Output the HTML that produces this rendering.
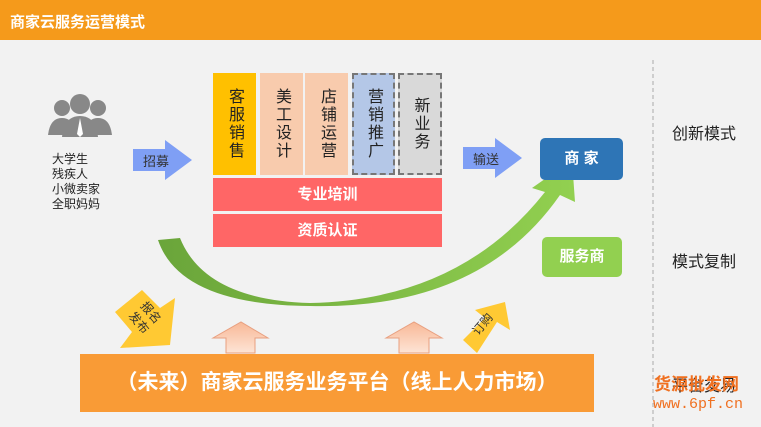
<!DOCTYPE html>
<html><head><meta charset="utf-8"><style>
body{margin:0;width:761px;height:427px;background:#f2f2f2;position:relative;overflow:hidden;font-family:"Liberation Sans","Noto Sans CJK SC",sans-serif}
.a{position:absolute}
.col{position:absolute;top:73px;height:102px;width:43px;font-size:16px;line-height:17px;text-align:center;color:#222;display:flex;align-items:center;justify-content:center;writing-mode:vertical-rl;letter-spacing:2px}
.bar{position:absolute;left:213px;width:229px;background:#ff6666;color:#fff;font-weight:bold;font-size:15px;text-align:center}
</style></head><body>
<div class="a" style="left:0;top:0;width:761px;height:40px;background:#f59a1b"></div>
<div class="a" style="left:10px;top:11px;color:#fff;font-weight:bold;font-size:15px">商家云服务运营模式</div>

<svg class="a" style="left:0;top:0" width="761" height="427">
<defs><linearGradient id="g" x1="0" x2="1"><stop offset="0" stop-color="#6aa53a"/><stop offset="1" stop-color="#92d050"/></linearGradient>
<linearGradient id="p" x1="0" y1="0" x2="0" y2="1"><stop offset="0" stop-color="#f8b896"/><stop offset="1" stop-color="#fde4d6"/></linearGradient></defs>
<g fill="#888">
<circle cx="62" cy="108" r="8"/><circle cx="98" cy="108" r="8"/>
<path d="M48 135 Q50 118 62 118 Q74 118 76 135Z"/><path d="M84 135 Q86 118 98 118 Q110 118 112 135Z"/>
<circle cx="80" cy="104" r="10"/><path d="M62 137 Q64 116 80 116 Q96 116 98 137Z"/>
</g>
<path d="M80 118 L77 134 L80 137 L83 134Z" fill="#fff"/>
<polygon points="133,149 165,149 165,140 192,160 165,180 165,171 133,171" fill="#7f9ff5"/>
<polygon points="463,147 495,147 495,138 522,158 495,178 495,169 463,169" fill="#7f9ff5"/>
<path d="M158 240 L180 238 Q205 300 310 303 Q460 300 545 192 L532 188 L572 160 L575 202 L560 195 Q480 310 310 306 Q180 305 158 240Z" fill="url(#g)"/>
<line x1="653" y1="60" x2="653" y2="427" stroke="#aaa" stroke-dasharray="4,3"/>
<polygon points="226,353 226,338 213,338 241,322 268,338 255,338 255,353" fill="url(#p)" stroke="#e8a080"/>
<polygon points="399,353 399,338 386,338 414,322 442,338 429,338 429,353" fill="url(#p)" stroke="#e8a080"/>
<polygon points="115,312 142,290 160,308 175,298 170,345 120,348 132,332" fill="#ffc933"/>
<polygon points="463,340 485,318 475,310 505,302 510,330 497,322 477,353" fill="#ffc933"/>
<text x="140" y="306" font-size="12" transform="rotate(50 140 306)" fill="#333">报名</text>
<text x="128" y="316" font-size="12" transform="rotate(50 128 316)" fill="#333">发布</text>
<text x="478" y="336" font-size="12" transform="rotate(-50 478 336)" fill="#333">订购</text>
</svg>

<div class="a" style="left:52px;top:152px;font-size:12px;line-height:15px;color:#222">大学生<br>残疾人<br>小微卖家<br>全职妈妈</div>
<div class="a" style="left:143px;top:151px;font-size:13px;color:#333">招募</div>
<div class="a" style="left:473px;top:149px;font-size:13px;color:#333">输送</div>

<div class="col" style="left:213px;background:#ffc000">客服销售</div>
<div class="col" style="left:260px;background:#f8cbad">美工设计</div>
<div class="col" style="left:305px;background:#f8cbad">店铺运营</div>
<div class="col" style="left:352px;width:39px;height:98px;background:#b4c7e7;border:2px dashed #777">营销推广</div>
<div class="col" style="left:398px;width:40px;height:98px;background:#d9d9d9;border:2px dashed #777">新业务</div>
<div class="bar" style="top:178px;height:33px;line-height:33px">专业培训</div>
<div class="bar" style="top:214px;height:33px;line-height:33px">资质认证</div>

<div class="a" style="left:540px;top:138px;width:83px;height:42px;border-radius:5px;background:#2e75b6;color:#fff;font-weight:bold;font-size:15px;text-align:center;line-height:42px">商 家</div>
<div class="a" style="left:542px;top:237px;width:80px;height:40px;border-radius:5px;background:#92d050;color:#fff;font-weight:bold;font-size:15px;text-align:center;line-height:40px">服务商</div>

<div class="a" style="left:672px;top:120px;font-size:16px;color:#222">创新模式</div>
<div class="a" style="left:672px;top:248px;font-size:16px;color:#222">模式复制</div>
<div class="a" style="left:672px;top:372px;font-size:16px;color:#222">平台交易</div>

<div class="a" style="left:80px;top:354px;width:514px;height:58px;background:#f99b36;color:#fff;font-weight:bold;font-size:21px;text-align:center;line-height:58px">（未来）商家云服务业务平台（线上人力市场）</div>

<div class="a" style="left:654px;top:370px;font-size:17px;color:#f07020;font-weight:bold">货源批发网</div>
<div class="a" style="left:653px;top:396px;font-size:15px;color:#f07020;font-family:'Liberation Mono',monospace">www.6pf.cn</div>
</body></html>
